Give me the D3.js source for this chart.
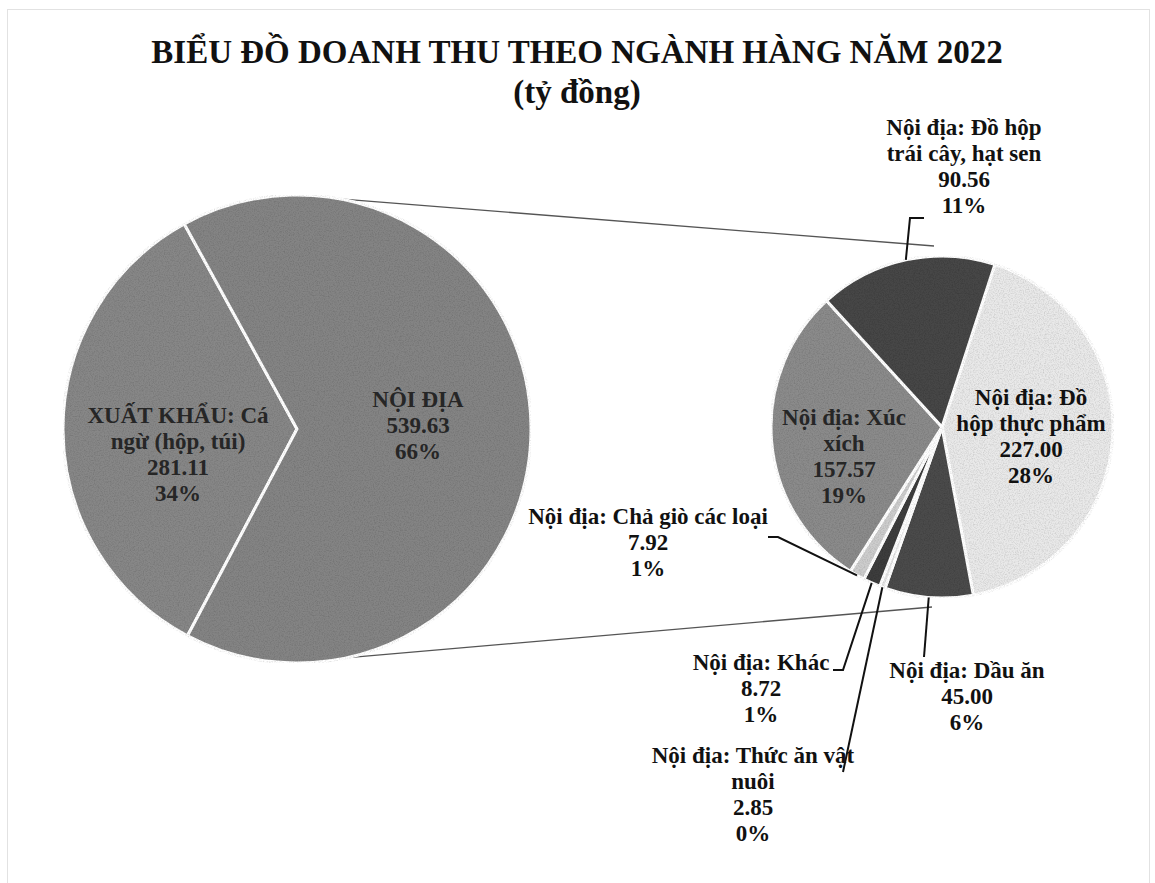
<!DOCTYPE html>
<html>
<head>
<meta charset="utf-8">
<script src="https://cdn.jsdelivr.net/npm/d3@7"></script>
<style>
  body { margin: 0; background: #fff; }
  svg text { font-family: "Liberation Serif", "Times New Roman", serif; font-weight: bold; }
</style>
</head>
<body>
<div id="chart"></div>
<script>
// data (tỷ đồng)
const titleLines = ["BIỂU ĐỒ DOANH THU THEO NGÀNH HÀNG NĂM 2022", "(tỷ đồng)"];

const mainNames = [["XUẤT KHẨU: Cá", "ngừ (hộp, túi)"], ["NỘI ĐỊA"]];
const mainValues = [281.11, 539.63];
const mainPercents = ["34%", "66%"];

const subNames = [
  ["Nội địa: Đồ", "hộp thực phẩm"],
  ["Nội địa: Dầu ăn"],
  ["Nội địa: Thức ăn vật", "nuôi"],
  ["Nội địa: Khác"],
  ["Nội địa: Chả giò các loại"],
  ["Nội địa: Xúc", "xích"],
  ["Nội địa: Đồ hộp", "trái cây, hạt sen"]
];
const subValues = [227.00, 45.00, 2.85, 8.72, 7.92, 157.57, 90.56];
const subPercents = ["28%", "6%", "0%", "1%", "1%", "19%", "11%"];

// layout
const W = 1155, H = 883;
const main = { cx: 297, cy: 429, r: 234 };
const sub = { cx: 942, cy: 427, r: 171 };
const mainColors = ["#878787", "#848484"];
const subColors = ["#e9e9e9", "#4b4b4b", "#e2e2e2", "#3e3e3e", "#cdcdcd", "#8b8b8b", "#474747"];
const mainLabelPos = [[178, 423], [418, 407]];
const subLabelPos = [[1031, 405], [967, 678], [753, 763], [761, 670], [648, 524], [844, 425], [964, 135]];
// leader line bends (label side), null = label inside slice
const subLeaders = [null, [[924, 657]], [[843, 772]], [[843, 670], [833, 670]], [[778, 537], [768, 537]], null, [[910, 218], [924, 218]]];
const insideText = [false, false, false, false, false, true, false];

const deg = Math.PI / 180;
const lineH = 26;

const svg = d3.select('#chart')
  .append('svg')
  .attr('width', W)
  .attr('height', H)
  .attr('viewBox', "0 0 " + W + " " + H);

// scan frame
svg.append('rect')
  .attr('x', 7.5).attr('y', 9.5)
  .attr('width', 1142).attr('height', 890)
  .attr('fill', 'none')
  .attr('stroke', '#c4c4c4')
  .attr('stroke-dasharray', '1,1');

// grain like the scan
const defs = svg.append('defs');
const grain = defs.append('filter').attr('id', 'grain').attr('x', 0).attr('y', 0).attr('width', 1).attr('height', 1);
grain.append('feTurbulence').attr('type', 'fractalNoise').attr('baseFrequency', 0.8).attr('numOctaves', 2).attr('seed', 3).attr('result', 'n');
grain.append('feColorMatrix').attr('in', 'n').attr('type', 'matrix')
  .attr('values', '0 0 0 0 0  0 0 0 0 0  0 0 0 0 0  0 0 0 0.55 -0.22').attr('result', 'na');
grain.append('feComposite').attr('in', 'na').attr('in2', 'SourceGraphic').attr('operator', 'in').attr('result', 'nc');
const gm = grain.append('feMerge');
gm.append('feMergeNode').attr('in', 'SourceGraphic');
gm.append('feMergeNode').attr('in', 'nc');

// title
svg.append('g').selectAll('text')
  .data(titleLines)
  .join('text')
  .attr('x', 577)
  .attr('y', (d, i) => 63 + i * 40)
  .attr('text-anchor', 'middle')
  .attr('font-size', 33)
  .attr('fill', '#111')
  .text(d => d);

// connector lines between the pies
const conn = [
  [main.cx + main.r * Math.sin(10.5 * deg), main.cy - main.r * Math.cos(10.5 * deg), sub.cx - 8, sub.cy - sub.r - 10],
  [main.cx + main.r * Math.sin(12 * deg), main.cy + main.r * Math.cos(12 * deg), sub.cx - 10, sub.cy + sub.r + 9]
];
svg.append('g').selectAll('line')
  .data(conn)
  .join('line')
  .attr('x1', d => d[0]).attr('y1', d => d[1])
  .attr('x2', d => d[2]).attr('y2', d => d[3])
  .attr('stroke', '#555')
  .attr('stroke-width', 1.3);

// main pie
const mainPie = d3.pie().sort(null)
  .startAngle(-28.8 * deg).endAngle(331.2 * deg);
const mainArcs = mainPie(mainValues.slice().reverse()).reverse();
const mainArc = d3.arc().innerRadius(0).outerRadius(main.r);

const gMain = svg.append('g').attr('transform', `translate(${main.cx},${main.cy})`);
gMain.selectAll('path')
  .data(mainArcs)
  .join('path')
  .attr('d', mainArc)
  .attr('fill', (d, i) => mainColors[i])
  .attr('stroke', '#fff')
  .attr('stroke-width', 3)
  .attr('stroke-linejoin', 'round')
  .attr('filter', 'url(#grain)');

// sub pie
const subPie = d3.pie().sort(null)
  .startAngle(18 * deg).endAngle(378 * deg);
const subArcs = subPie(subValues);
const subArc = d3.arc().innerRadius(0).outerRadius(sub.r);

const gSub = svg.append('g').attr('transform', `translate(${sub.cx},${sub.cy})`);
gSub.selectAll('path')
  .data(subArcs)
  .join('path')
  .attr('d', subArc)
  .attr('fill', (d, i) => subColors[i])
  .attr('stroke', '#fff')
  .attr('stroke-width', 3)
  .attr('stroke-linejoin', 'round')
  .attr('filter', 'url(#grain)');

// leader lines from slice edge to label
const edgePoint = d => {
  const a = (d.startAngle + d.endAngle) / 2;
  return [sub.cx + sub.r * Math.sin(a), sub.cy - sub.r * Math.cos(a)];
};
svg.append('g').selectAll('path')
  .data(subArcs.filter((d, i) => subLeaders[i]))
  .join('path')
  .attr('d', d => d3.line()([edgePoint(d)].concat(subLeaders[d.index])))
  .attr('fill', 'none')
  .attr('stroke', '#111')
  .attr('stroke-width', 2);

// labels
const fmt = d3.format('.2f');
const addLabel = (lines, pos, color) => {
  svg.append('text')
    .attr('text-anchor', 'middle')
    .attr('font-size', 23)
    .attr('fill', color)
    .selectAll('tspan')
    .data(lines)
    .join('tspan')
    .attr('x', pos[0])
    .attr('y', (d, i) => pos[1] + i * lineH)
    .text(d => d);
};

mainValues.forEach((v, i) => {
  addLabel(mainNames[i].concat([fmt(v), mainPercents[i]]), mainLabelPos[i], '#262626');
});
subValues.forEach((v, i) => {
  addLabel(subNames[i].concat([fmt(v), subPercents[i]]), subLabelPos[i], insideText[i] ? '#262626' : '#111');
});
</script>
</body>
</html>
